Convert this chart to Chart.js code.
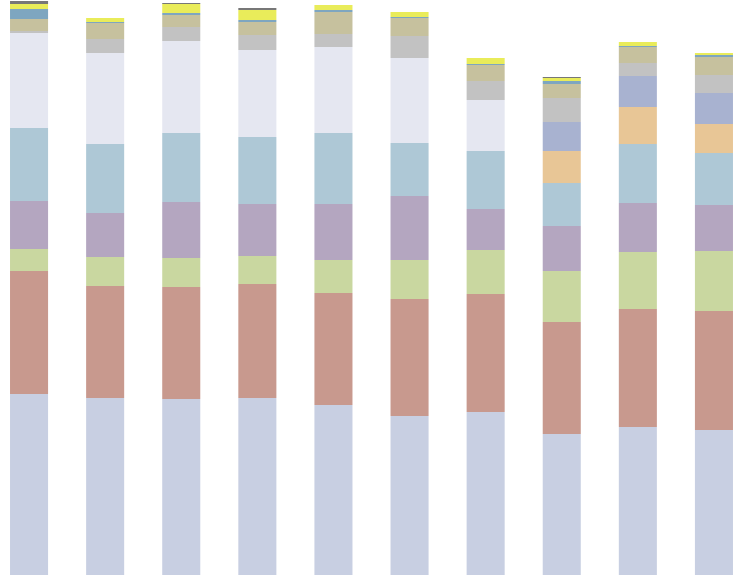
<!DOCTYPE html>
<html>
<head>
<meta charset="utf-8">
<script src="https://cdn.jsdelivr.net/npm/chart.js@4"></script>
<style>
  html, body { margin: 0; padding: 0; background: #fff; overflow: hidden; }
  #wrap { position: absolute; left: -9px; top: 0; width: 761px; height: 575px; }
</style>
</head>
<body>
<div id="wrap"><canvas id="chart"></canvas></div>
<script>
// categories (no visible labels in the picture)
const categories = ['1', '2', '3', '4', '5', '6', '7', '8', '9', '10'];

// stacked series, bottom to top
const s01 = [181, 177, 176, 177, 170, 159, 163, 141, 148, 145];
const s02 = [123, 112, 112, 114, 112, 117, 118, 112, 118, 119];
const s03 = [22, 29, 29, 28, 33, 39, 44, 51, 57, 60];
const s04 = [48, 44, 56, 52, 56, 64, 41, 45, 49, 46];
const s05 = [73, 69, 69, 67, 71, 53, 58, 43, 59, 52];
const s06 = [95, 91, 92, 87, 86, 85, 51, 0, 0, 0];
const s07 = [0, 0, 0, 0, 0, 0, 0, 32, 37, 29];
const s08 = [0, 0, 0, 0, 0, 0, 0, 29, 31, 31];
const s09 = [2, 14, 14, 15, 13, 22, 19, 24, 13, 18];
const s10 = [12, 16, 12, 13, 22, 18, 16, 14, 16, 18];
const s11 = [10, 1, 2, 2, 2, 1, 1, 3, 1, 2];
const s12 = [5, 4, 9, 10, 5, 5, 6, 3, 4, 2];
const s13 = [3, 0, 1, 2, 0, 0, 0, 1, 0, 0];

const series = [s01, s02, s03, s04, s05, s06, s07, s08, s09, s10, s11, s12, s13];
const colors = ['#c8cfe2', '#c8998e', '#c9d7a0', '#b4a6c0', '#aec8d6', '#e5e7f1',
                '#e8c696', '#a8b2d0', '#c2c2c2', '#c6c19e', '#7ea6c0', '#e9ec5a', '#777777'];

const datasets = series.map((data, i) => ({
    label: 'S' + (i + 1),
    data: data,
    backgroundColor: colors[i],
    borderWidth: 0,
    categoryPercentage: 1,
    barPercentage: 0.5
}));

new Chart(document.getElementById('chart'), {
    type: 'bar',
    data: { labels: categories, datasets: datasets },
    options: {
        responsive: true, maintainAspectRatio: false,
        animation: false,
        layout: { padding: 0 },
        plugins: { legend: { display: false }, tooltip: { enabled: false } },
        scales: {
            x: { stacked: true, display: false },
            y: { stacked: true, display: false, min: 0, max: 575 }
        }
    }
});
</script>
</body>
</html>
